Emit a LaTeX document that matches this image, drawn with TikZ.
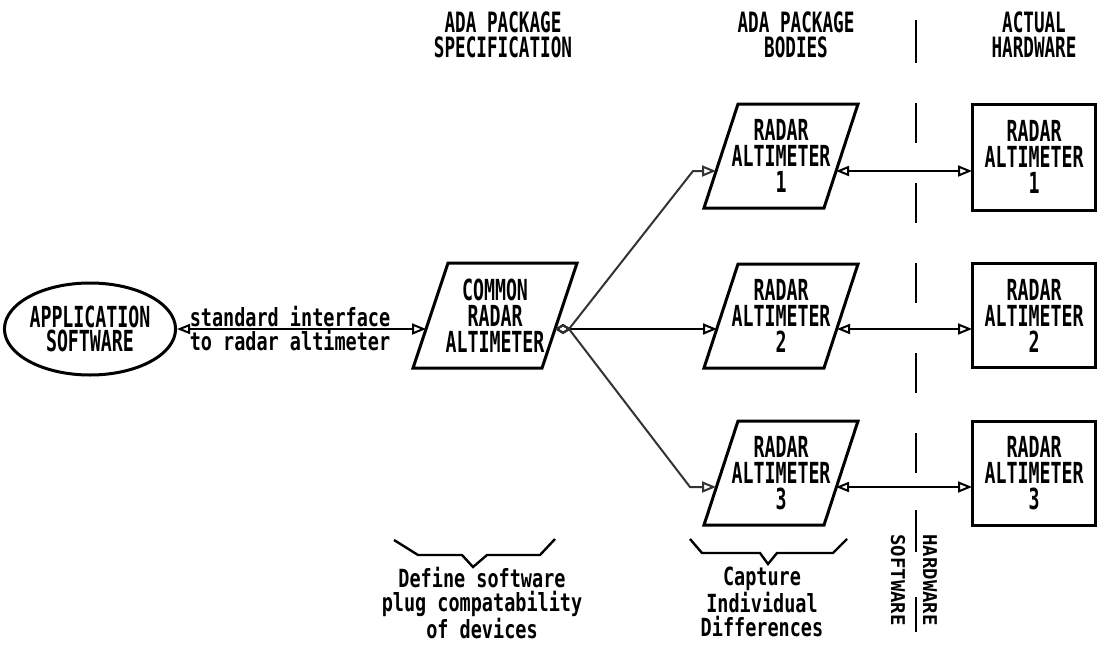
\documentclass[tikz,border=0pt]{standalone}
\usepackage{fontspec}
\usetikzlibrary{arrows.meta,shapes.geometric}
\newfontfamily\capfont[FakeStretch=0.63]{DejaVu Sans Mono}
\newfontfamily\lowfont[FakeStretch=0.74]{DejaVu Sans Mono}
\newfontfamily\sidefont{DejaVu Sans Mono}

\begin{document}
\begin{tikzpicture}[x=1pt,y=-1pt,
  outline/.style={line width=3pt, line join=miter},
  link/.style={line width=2.4pt},
  diag/.style={line width=2pt, black!80},
  boxtext/.style={font=\capfont\bfseries\fontsize{29}{26}\selectfont, align=center, inner sep=0pt},
  headtext/.style={font=\capfont\bfseries\fontsize{28}{25}\selectfont, align=center, inner sep=0pt},
  notetext/.style={font=\lowfont\bfseries\fontsize{25}{24}\selectfont, align=center, inner sep=0pt},
  sidetext/.style={font=\sidefont\bfseries\fontsize{19}{19}\selectfont, inner sep=0pt, rotate=-90},
  tgt/.tip={Triangle[open, length=14pt, width=11pt, line width=2pt]},
  src/.tip={Triangle[open, length=13pt, width=10pt, line width=2pt]},
  hub/.tip={Diamond[open, length=16pt, width=10pt, line width=2pt]},
]
\useasboundingbox (0,0) rectangle (1098,645);

% column headings
\node[headtext] (hspec) at (503,35) {ADA PACKAGE\\SPECIFICATION};
\node[headtext] (hbody) at (796,35) {ADA PACKAGE\\BODIES};
\node[headtext] (hhw)   at (1034,35) {ACTUAL\\HARDWARE};

% application software
\node[ellipse, draw, outline, minimum width=166pt, minimum height=92pt, inner sep=0pt,
      font=\capfont\bfseries\fontsize{29}{24}\selectfont, align=center] (app) at (90,329)
      {APPLICATION\\SOFTWARE};

% common package specification
\draw[outline] (448,263) -- (577,263) -- (542,368) -- (413,368) -- cycle;
\node[boxtext] (common) at (495,316) {COMMON\\RADAR\\ALTIMETER};
\coordinate (cin)  at (426,329);
\coordinate (cout) at (555,329);

% package bodies
\foreach \t in {104,264,421}{
  \draw[outline] (738,\t) -- (858,\t) -- (824,\t+104) -- (704,\t+104) -- cycle;
}
\node[boxtext] (body1) at (781,156) {RADAR\\ALTIMETER\\1};
\node[boxtext] (body2) at (781,316) {RADAR\\ALTIMETER\\2};
\node[boxtext] (body3) at (781,473) {RADAR\\ALTIMETER\\3};
\coordinate (b1in) at (716,171);  \coordinate (b1out) at (836,171);
\coordinate (b2in) at (717,329);  \coordinate (b2out) at (837,329);
\coordinate (b3in) at (716,487);  \coordinate (b3out) at (836,487);
\coordinate (k1) at (693,171);
\coordinate (k3) at (690,487);

% hardware units
\foreach \t/\b in {104/210,263/367,421/525}{
  \draw[outline] (972,\t) rectangle (1095,\b);
}
\node[boxtext] (hw1) at (1034,157) {RADAR\\ALTIMETER\\1};
\node[boxtext] (hw2) at (1034,316) {RADAR\\ALTIMETER\\2};
\node[boxtext] (hw3) at (1034,473) {RADAR\\ALTIMETER\\3};
\coordinate (h1in) at (972,171);
\coordinate (h2in) at (972,329);
\coordinate (h3in) at (972,487);

% interface labels
\node[notetext, anchor=base] (std) at (290,326) {standard interface};
\node[notetext, anchor=base] (tor) at (290,350) {to radar altimeter};

% connectors
\draw[link, src-tgt] (app.east) -- (cin);
\draw[diag, hub-tgt] (cout) -- ++(14,0) -- (k1) -- (b1in);
\draw[link, hub-tgt] (cout) -- (b2in);
\draw[diag, hub-tgt] (cout) -- ++(14,0) -- (k3) -- (b3in);
\draw[link, src-tgt] (b1out) -- (h1in);
\draw[link, src-tgt] (b2out) -- (h2in);
\draw[link, src-tgt] (b3out) -- (h3in);

% software / hardware boundary
\foreach \a/\b in {20/63,103/143,183/223,263/303,353/393,433/473,510/552,597/632}{
  \draw[line width=2.5pt] (916,\a) -- (916,\b);
}
\node[sidetext] (sw) at (898,580) {SOFTWARE};
\node[sidetext] (hw) at (930,580) {HARDWARE};

% braces and notes
\draw[link, line join=miter] (394,540) -- (418,555) -- (462,555) -- (473,567) -- (487,555) -- (540,555) -- (555,539);
\draw[link, line join=miter] (690,539) -- (702,553) -- (760,553) -- (768,564) -- (777,553) -- (833,553) -- (847,539);
\node[notetext, anchor=north] (def) at (482,567) {Define software\\plug compatability\\of devices};
\node[notetext, anchor=north] (cap) at (762,567) {Capture\\Individual\\Differences};
\end{tikzpicture}
\end{document}
